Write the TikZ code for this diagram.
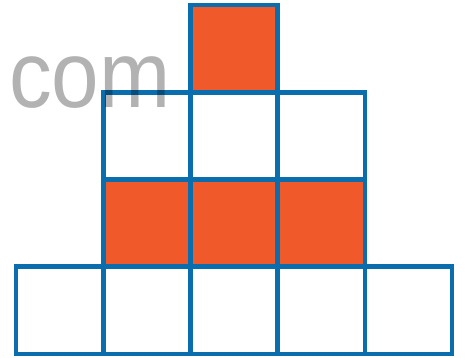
\documentclass[tikz,border=0pt]{standalone}
\usepackage{fontspec}
\setmainfont{Liberation Sans}
\usetikzlibrary{positioning}
\definecolor{GridBlue}{HTML}{0A6EAE}
\definecolor{BrickOrange}{HTML}{F05A2B}
\tikzset{
    cell/.style={rectangle, draw=GridBlue, line width=4.6pt, minimum size=87.2pt, inner sep=0pt, outer sep=0pt},
    cell_o/.style={cell, fill=BrickOrange},
    mark_txt/.style={font=\fontsize{90}{90}\selectfont, text=black, text opacity=0.3, inner sep=0pt, anchor=base west, xscale=0.95, yscale=1.05, transform shape},
}

\begin{document}
\begin{tikzpicture}[x=1pt, y=-1pt, node distance=0pt]
\useasboundingbox (0,0) rectangle (467,358);
% bottom row
\node[cell] (b1) at (59.6,310.4) {};
\foreach \i [count=\j from 2] in {1,...,4}
    \node[cell, right=of b\i] (b\j) {};
% orange row
\node[cell_o, above=of b2] (m1) {};
\node[cell_o, above=of b3] (m2) {};
\node[cell_o, above=of b4] (m3) {};
% white row
\node[cell, above=of m1] (u1) {};
\node[cell, above=of m2] (u2) {};
\node[cell, above=of m3] (u3) {};
% top
\node[cell_o, above=of u2] (top) {};

% watermark text
\node[mark_txt] (logo) at (9,108) {com};
\end{tikzpicture}
\end{document}
